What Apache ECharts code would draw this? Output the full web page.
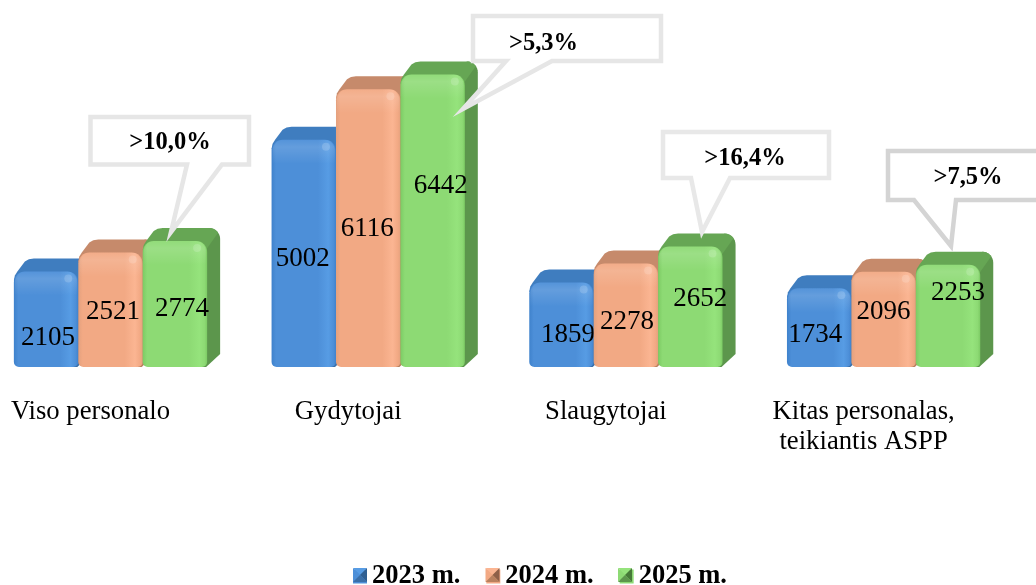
<!DOCTYPE html>
<html><head><meta charset="utf-8">
<style>html,body{margin:0;padding:0;background:#fff}#c{width:1036px;height:585px}</style>
<script src="https://cdn.jsdelivr.net/npm/echarts@6/dist/echarts.min.js"></script>
</head><body><div id="c"></div>
<script>
const categories = ['Viso personalo', 'Gydytojai', 'Slaugytojai', 'Kitas personalas,\nteikiantis ASPP'];
const seriesNames = ['2023 m.', '2024 m.', '2025 m.'];
const values2023 = [2105, 5002, 1859, 1734];
const values2024 = [2521, 6116, 2278, 2096];
const values2025 = [2774, 6442, 2652, 2253];
const calloutTexts = ['>10,0%', '>5,3%', '>16,4%', '>7,5%'];

// style and layout, kept apart from the data
const FONT = '"Liberation Serif","Times New Roman",serif';
const DEPTH = 13;
const palettes = [
  {edge:'#3f82cc', main:'#4d8fd8', light:'#579ce4', top:'#3f7dbf', side:'#3a6fa8', dark:'#2f5f92'},
  {edge:'#e4a17e', main:'#f2a984', light:'#fbb592', top:'#c68a6b', side:'#b9815f', dark:'#8f6048'},
  {edge:'#7ccb64', main:'#8dda74', light:'#95e37c', top:'#66a654', side:'#5c964c', dark:'#467a38'}
];
const labelNudges = [
  [[2,66.6],[-1,119],[6.5,52],[-4,47]],
  [[2.5,59.5],[-1,140],[1,58.5],[0,40]],
  [[7,68],[8,112],[10,52],[10,28]]
];
const calloutShapes = [
  {stroke:'#e6e6e6', pts:[[90.5,117],[249,117],[249,164.5],[222,164.5],[171,232],[187,164.5],[90.5,164.5]], tx:170, ty:142.5},
  {stroke:'#e6e6e6', pts:[[473,16],[661,16],[661,61],[552,61],[463,109],[506,61],[473,61]], tx:543.5, ty:43.5},
  {stroke:'#e8e8e8', pts:[[663,132],[829,132],[829,178],[730,178],[702,232],[691,178],[663,178]], tx:745, ty:158.5},
  {stroke:'#d4d4d4', pts:[[888,151],[1042,151],[1042,200],[956,200],[951,246],[914,200],[888,200]], tx:968, ty:177.5}
];
const swatchLefts = [353, 485.5, 618];
const swatchTop = 568, swatchSize = 14;

function arc(cx, cy, r, a0, a1) {
  const out = [];
  for (let i = 0; i <= 8; i++) {
    const a = (a0 + (a1 - a0) * i / 8) * Math.PI / 180;
    out.push([cx + r * Math.cos(a), cy + r * Math.sin(a)]);
  }
  return out;
}

function barRenderer(s) {
  const p = palettes[s];
  return function (params, api) {
    const g = api.value(0), v = api.value(1);
    const top = api.coord([g, v]), base = api.coord([g, 0]);
    const band = api.size([1, 0])[0];
    const w = band / 4;
    const x0 = top[0] - 1.5 * w + s * w, x1 = x0 + w;
    const yT = top[1], yB = base[1], d = DEPTH, r = 11;
    const side = [[x1 - 6, yB], [x1 - 1, yB], [x1 + d, yB - d]]
      .concat([[x1 + d, yT - d + r]])
      .concat(arc(x1 + d - r, yT - d + r, r, 0, -90))
      .concat([[x1 - 10, yT + 6]]);
    const topFace = [[x0, yT + 9], [x0 + 1, yT + 4], [x0 + 3.5, yT],
        [x0 + d - 2, yT - d + 3], [x0 + d + 2, yT - d + .8], [x0 + d + 7, yT - d]]
      .concat([[x1 + d - r, yT - d]])
      .concat(arc(x1 + d - r, yT - d + r, r, -90, -35))
      .concat([[x1 - 2, yT + 10], [x0 + 1, yT + 10]]);
    const [nx, ny] = labelNudges[s][g];
    return {type:'group', children:[
      {type:'polygon', shape:{points:side}, style:{fill:p.side}},
      {type:'polygon', shape:{points:topFace}, style:{fill:p.top}},
      {type:'rect', shape:{x:x0, y:yT, width:w, height:yB - yT, r:[11,11,5,5]},
        style:{fill:{type:'linear',x:0,y:0,x2:1,y2:0,colorStops:[
          {offset:0,color:p.edge},{offset:.07,color:p.main},{offset:.72,color:p.main},
          {offset:.88,color:p.light},{offset:.96,color:p.main},{offset:1,color:p.edge}]}}},
      {type:'rect', shape:{x:x0 + 1, y:yT, width:w - 2, height:24, r:[11,11,0,0]},
        style:{fill:{type:'linear',x:0,y:0,x2:0,y2:1,colorStops:[
          {offset:0,color:'rgba(255,255,255,0.04)'},{offset:.3,color:'rgba(255,255,255,0.13)'},
          {offset:1,color:'rgba(255,255,255,0)'}]}}},
      {type:'circle', shape:{cx:x1 - 10, cy:yT + 7, r:4}, style:{fill:'rgba(255,255,255,0.16)'}},
      {type:'text', z2:5, style:{text:String(v), x:(x0 + x1) / 2 + nx, y:yT + ny,
        textAlign:'center', textVerticalAlign:'middle', font:'27px ' + FONT, fill:'#000'}}
    ]};
  };
}

const allValues = [values2023, values2024, values2025];
const chart = echarts.init(document.getElementById('c'), null, {renderer:'canvas'});

const callouts = calloutShapes.flatMap((c, i) => [
  {type:'polygon', z:50, shape:{points:c.pts}, style:{fill:'#fff', stroke:c.stroke, lineWidth:4.5, lineJoin:'miter', miterLimit:20}},
  {type:'text', z:51, style:{text:calloutTexts[i], x:c.tx, y:c.ty, textAlign:'center', textVerticalAlign:'middle',
    font:'bold 24.5px ' + FONT, fill:'#000'}}
]);

const swatches = swatchLefts.flatMap((l, s) => {
  const t = swatchTop, z = swatchSize, m = [l + z / 2, t + z / 2], p = palettes[s];
  const tri = (a, b, fill) => ({type:'polygon', z:60, shape:{points:[a, b, m]}, style:{fill}});
  return [
    tri([l, t], [l + z, t], p.light),
    tri([l, t], [l, t + z], p.main),
    tri([l + z, t], [l + z, t + z], p.dark),
    tri([l, t + z], [l + z, t + z], p.side)
  ];
});

chart.setOption({
  animation:false,
  backgroundColor:'#fff',
  grid:{left:-18.35, top:3.64, width:1030.8, height:363.36, outerBoundsMode:'none'},
  xAxis:{type:'category', data:categories,
    axisLine:{show:false}, axisTick:{show:false},
    axisLabel:{interval:0, margin:30, color:'#000', fontFamily:FONT, fontSize:26.7, lineHeight:30,
      align:'center', padding:[0,40,0,0]}},
  yAxis:{type:'value', min:0, max:8000, show:false, splitLine:{show:false}},
  legend:{left:348, top:558, itemWidth:14, itemHeight:14, itemGap:26, icon:'rect',
    textStyle:{fontFamily:FONT, fontSize:26.5, fontWeight:'bold', color:'#000'},
    data:seriesNames.map((n, s) => ({name:n, itemStyle:{color:palettes[s].main}}))},
  graphic:callouts.concat(swatches),
  series:seriesNames.map((n, s) => ({
    type:'custom', name:n, clip:false, z:2 + s,
    renderItem:barRenderer(s),
    encode:{x:0, y:1},
    itemStyle:{color:palettes[s].main},
    data:allValues[s].map((v, g) => [g, v])
  }))
});
</script></body></html>
